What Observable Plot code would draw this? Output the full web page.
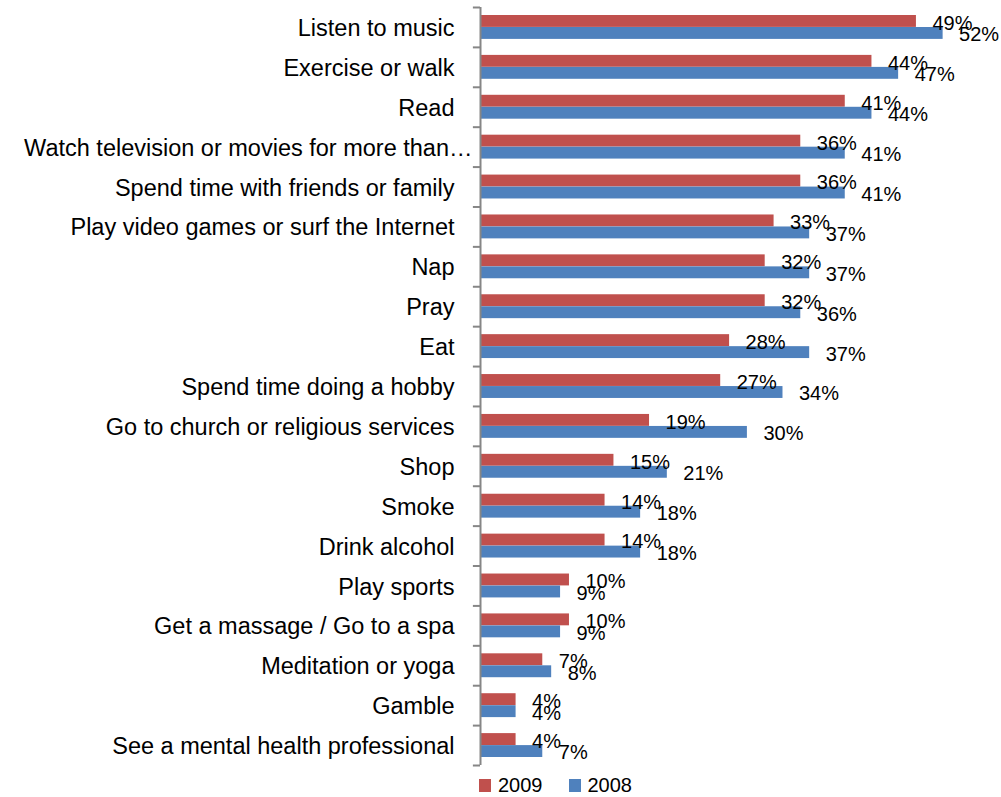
<!DOCTYPE html>
<html>
<head>
<meta charset="utf-8">
<script src="https://cdn.jsdelivr.net/npm/d3@7"></script>
<script src="https://cdn.jsdelivr.net/npm/@observablehq/plot@0.6"></script>
<style>
  body { margin: 0; background: #fff; font-family: "Liberation Sans", Arial, sans-serif; }
  #chart svg { display: block; }
  #legend { display: flex; align-items: center; margin-left: 479px; margin-top: 3px; font-size: 20px; line-height: 24px; color: #000; }
  .sw { width: 12px; height: 13px; display: inline-block; margin-right: 7px; }
  .item { display: flex; align-items: center; margin-right: 26px; }
</style>
</head>
<body>
<div id="chart"></div>
<div id="legend"></div>
<script>
const categories = [
  "Listen to music",
  "Exercise or walk",
  "Read",
  "Watch television or movies for more than…",
  "Spend time with friends or family",
  "Play video games or surf the Internet",
  "Nap",
  "Pray",
  "Eat",
  "Spend time doing a hobby",
  "Go to church or religious services",
  "Shop",
  "Smoke",
  "Drink alcohol",
  "Play sports",
  "Get a massage / Go to a spa",
  "Meditation or yoga",
  "Gamble",
  "See a mental health professional"
];
const values2009 = [49, 44, 41, 36, 36, 33, 32, 32, 28, 27, 19, 15, 14, 14, 10, 10, 7, 4, 4];
const values2008 = [52, 47, 44, 41, 41, 37, 37, 36, 37, 34, 30, 21, 18, 18, 9, 9, 8, 4, 7];
const seriesNames = ["2009", "2008"];
const seriesColors = ["#C0504D", "#4F81BD"];

const d09 = categories.map((c, i) => ({category: c, value: values2009[i]}));
const d08 = categories.map((c, i) => ({category: c, value: values2008[i]}));
const lastCat = [categories[categories.length - 1]];
const font = "Liberation Sans, Arial, sans-serif";

const chart = Plot.plot({
  width: 1001,
  height: 770,
  marginLeft: 480,
  marginRight: 5,
  marginTop: 7,
  marginBottom: 5,
  style: {fontFamily: font, background: "#fff"},
  x: {domain: [0, 58], axis: null},
  y: {domain: categories, padding: 0, round: false, axis: null},
  marks: [
    Plot.barX(d09, {x: "value", y: "category", fill: seriesColors[0], insetTop: 8, insetBottom: 20}),
    Plot.barX(d08, {x: "value", y: "category", fill: seriesColors[1], insetTop: 20, insetBottom: 8}),
    // category tick marks at band boundaries
    Plot.ruleY(categories, {y: d => d, x1: -0.8, x2: 0, dy: -19.95, stroke: "#868686", strokeWidth: 2}),
    Plot.ruleY(lastCat, {y: d => d, x1: -0.8, x2: 0, dy: 19.95, stroke: "#868686", strokeWidth: 2}),
    Plot.ruleX([0], {stroke: "#868686", strokeWidth: 2}),
    // category labels
    Plot.text(categories.filter(c => !c.endsWith("…")), {x: 0, y: d => d, text: d => d, textAnchor: "end", dx: -26, dy: 1, fontSize: 23.5, fill: "#000"}),
    Plot.text(categories.filter(c => c.endsWith("…")), {x: 0, y: d => d, text: d => d, textAnchor: "end", dx: -8, dy: 1, fontSize: 23.5, fill: "#000"}),
    // data labels
    Plot.text(d09, {x: "value", y: "category", text: d => d.value + "%", textAnchor: "start", dx: 16, dy: -4, fontSize: 20, fill: "#000"}),
    Plot.text(d08, {x: "value", y: "category", text: d => d.value + "%", textAnchor: "start", dx: 16, dy: 7.5, fontSize: 20, fill: "#000"})
  ]
});
document.getElementById("chart").appendChild(chart);

const legend = document.getElementById("legend");
seriesNames.forEach((name, i) => {
  const item = document.createElement("span");
  item.className = "item";
  const sw = document.createElement("span");
  sw.className = "sw";
  sw.style.background = seriesColors[i];
  item.appendChild(sw);
  item.appendChild(document.createTextNode(name));
  legend.appendChild(item);
});
</script>
</body>
</html>
